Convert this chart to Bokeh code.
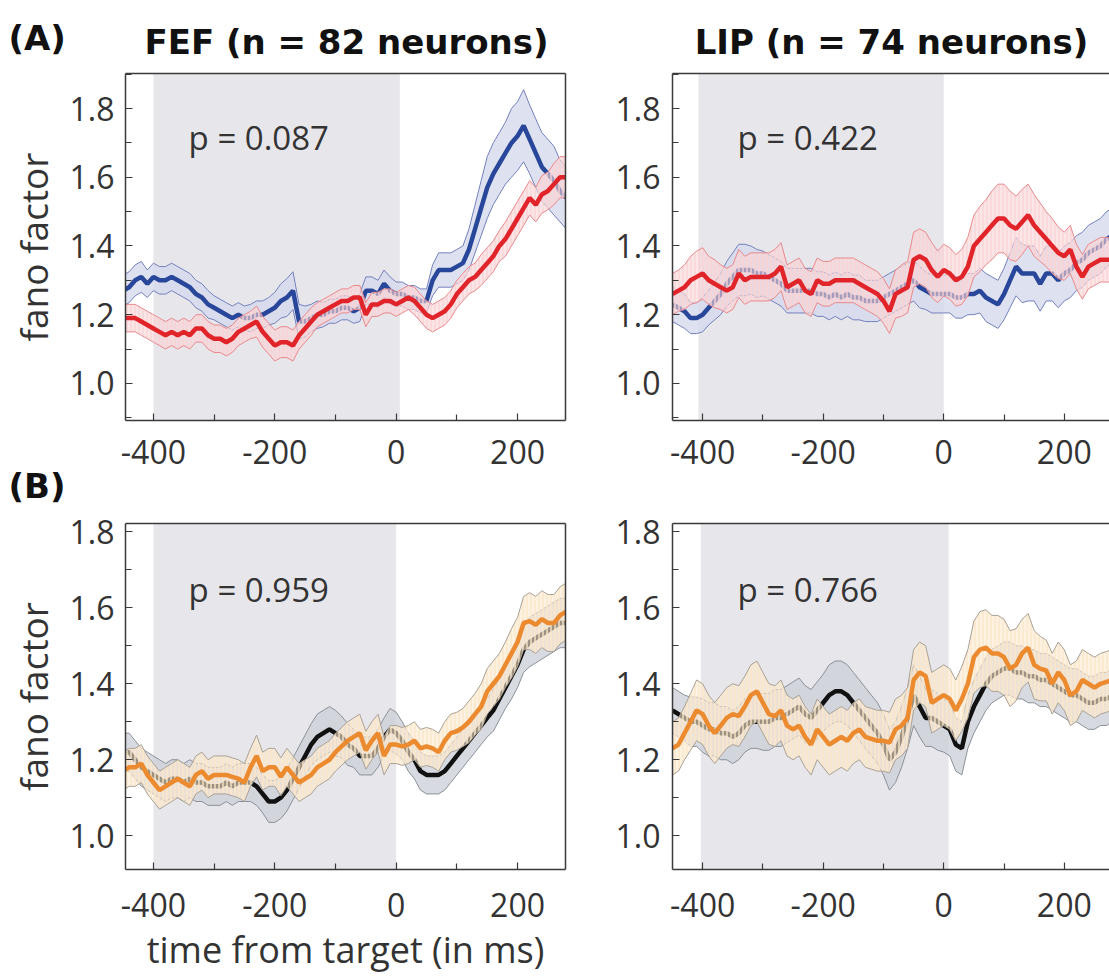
import numpy as np
from bokeh.plotting import figure
from bokeh.layouts import column, row
from bokeh.models import (FixedTicker, LinearAxis, Label, BoxAnnotation, Range1d,
                          NumeralTickFormatter, Title)
from bokeh.embed import file_html
from bokeh.resources import INLINE

# ---------------- data ----------------
time_ms = list(range(-450, 281, 10))  # 74 samples

# (A) FEF
fef_a_blue = [1.27,1.28,1.30,1.31,1.29,1.31,1.30,1.30,1.31,1.30,
              1.29,1.28,1.26,1.25,1.23,1.22,1.21,1.20,1.19,1.20,
              1.19,1.19,1.20,1.20,1.21,1.22,1.24,1.25,1.27,1.18,
              1.18,1.19,1.20,1.20,1.21,1.21,1.22,1.22,1.21,1.22,
              1.27,1.27,1.26,1.29,1.27,1.26,1.26,1.25,1.25,1.24,
              1.24,1.30,1.33,1.33,1.33,1.34,1.35,1.39,1.45,1.51,
              1.57,1.61,1.64,1.67,1.70,1.72,1.75,1.71,1.67,1.63,
              1.61,1.59,1.56,1.54]
fef_a_blue_sem = [.045,.045,.045,.045,.04,.04,.04,.04,.04,.04,
                  .04,.04,.04,.04,.04,.035,.035,.035,.035,.035,
                  .035,.04,.04,.04,.04,.045,.05,.055,.055,.05,
                  .045,.04,.04,.035,.035,.035,.035,.035,.035,.04,
                  .04,.04,.04,.04,.04,.035,.035,.035,.035,.035,
                  .035,.045,.05,.05,.05,.05,.05,.06,.07,.08,
                  .09,.09,.09,.09,.10,.10,.105,.10,.10,.10,
                  .10,.10,.09,.09]
fef_a_red = [1.19,1.19,1.19,1.18,1.17,1.16,1.15,1.14,1.15,1.14,
             1.15,1.14,1.16,1.16,1.14,1.13,1.13,1.12,1.13,1.15,
             1.16,1.17,1.18,1.15,1.13,1.11,1.12,1.12,1.11,1.14,
             1.16,1.18,1.20,1.21,1.22,1.23,1.24,1.24,1.25,1.25,
             1.20,1.23,1.23,1.24,1.24,1.23,1.24,1.25,1.24,1.22,
             1.20,1.19,1.20,1.21,1.23,1.26,1.28,1.30,1.31,1.33,
             1.35,1.37,1.40,1.42,1.45,1.48,1.51,1.54,1.52,1.55,
             1.56,1.58,1.60,1.60]
fef_a_red_sem = [.04,.04,.04,.04,.04,.04,.04,.04,.04,.04,
                 .04,.04,.04,.04,.04,.04,.04,.04,.04,.04,
                 .04,.04,.045,.045,.045,.045,.045,.045,.045,.04,
                 .04,.04,.035,.035,.035,.035,.035,.035,.035,.035,
                 .035,.035,.035,.035,.035,.035,.035,.035,.04,.04,
                 .04,.04,.04,.04,.04,.04,.04,.04,.04,.045,
                 .045,.045,.045,.05,.05,.05,.05,.05,.05,.055,
                 .055,.06,.06,.06]

# (A) LIP
lip_a_blue = [1.23,1.22,1.21,1.19,1.19,1.20,1.22,1.24,1.26,1.29,
              1.31,1.33,1.33,1.33,1.32,1.32,1.31,1.30,1.29,1.27,
              1.27,1.27,1.27,1.27,1.26,1.26,1.25,1.26,1.25,1.26,
              1.25,1.25,1.24,1.24,1.24,1.25,1.26,1.27,1.28,1.29,
              1.30,1.28,1.27,1.26,1.26,1.26,1.26,1.25,1.25,1.26,
              1.26,1.27,1.25,1.24,1.23,1.26,1.30,1.34,1.32,1.32,
              1.32,1.29,1.32,1.32,1.30,1.32,1.33,1.35,1.36,1.38,
              1.39,1.40,1.42,1.43]
lip_a_blue_sem = [.05,.05,.05,.045,.045,.05,.05,.055,.06,.065,
                  .07,.075,.075,.07,.07,.065,.065,.065,.065,.065,
                  .065,.065,.065,.065,.065,.065,.065,.065,.065,.065,
                  .065,.065,.06,.06,.06,.06,.06,.06,.06,.06,
                  .06,.06,.055,.055,.055,.055,.055,.06,.06,.06,
                  .06,.065,.07,.07,.07,.075,.08,.085,.085,.08,
                  .08,.08,.08,.08,.08,.08,.08,.08,.08,.08,
                  .08,.08,.08,.08]
lip_a_red = [1.26,1.27,1.28,1.30,1.31,1.32,1.30,1.29,1.28,1.27,
             1.28,1.32,1.30,1.31,1.31,1.31,1.31,1.32,1.34,1.28,
             1.29,1.30,1.27,1.26,1.30,1.29,1.29,1.30,1.30,1.30,
             1.30,1.29,1.28,1.27,1.26,1.24,1.21,1.26,1.27,1.28,
             1.36,1.37,1.36,1.33,1.31,1.33,1.32,1.30,1.31,1.34,
             1.40,1.42,1.44,1.46,1.48,1.48,1.46,1.45,1.47,1.49,
             1.46,1.44,1.42,1.40,1.38,1.37,1.39,1.34,1.31,1.34,
             1.35,1.36,1.36,1.36]
lip_a_red_sem = [.06,.06,.065,.07,.075,.075,.07,.07,.065,.065,
                 .065,.07,.07,.07,.07,.07,.07,.07,.07,.065,
                 .065,.065,.065,.065,.065,.065,.065,.065,.065,.065,
                 .065,.065,.065,.065,.065,.065,.065,.07,.075,.075,
                 .08,.08,.08,.08,.075,.075,.075,.075,.08,.085,
                 .09,.095,.095,.10,.10,.10,.10,.095,.095,.09,
                 .09,.085,.08,.08,.075,.07,.07,.065,.065,.065,
                 .065,.065,.065,.065]

# (B) FEF
fef_b_black = [1.22,1.22,1.20,1.18,1.17,1.16,1.15,1.14,1.15,1.15,
               1.14,1.15,1.14,1.14,1.13,1.13,1.13,1.14,1.13,1.14,
               1.14,1.14,1.13,1.11,1.09,1.09,1.10,1.12,1.15,1.18,
               1.21,1.24,1.26,1.27,1.28,1.27,1.26,1.24,1.23,1.21,
               1.21,1.21,1.23,1.26,1.28,1.27,1.25,1.22,1.20,1.17,
               1.16,1.16,1.16,1.17,1.19,1.21,1.23,1.25,1.27,1.29,
               1.31,1.33,1.36,1.39,1.42,1.45,1.49,1.51,1.52,1.53,
               1.54,1.55,1.56,1.56]
fef_b_black_sem = [.05,.05,.05,.05,.05,.05,.05,.05,.05,.05,
                   .05,.05,.05,.05,.05,.05,.05,.05,.05,.05,
                   .05,.05,.05,.05,.055,.055,.055,.055,.055,.055,
                   .055,.055,.06,.06,.06,.06,.055,.055,.05,.05,
                   .05,.05,.05,.05,.055,.055,.05,.05,.05,.05,
                   .05,.05,.05,.05,.05,.05,.05,.05,.05,.05,
                   .05,.055,.055,.055,.06,.06,.06,.065,.065,.065,
                   .065,.065,.065,.065]
fef_b_orange = [1.17,1.18,1.18,1.19,1.16,1.14,1.12,1.13,1.14,1.15,
                1.14,1.13,1.16,1.17,1.15,1.16,1.16,1.16,1.155,1.15,
                1.14,1.18,1.21,1.17,1.18,1.18,1.155,1.18,1.16,1.14,
                1.15,1.16,1.18,1.19,1.20,1.22,1.235,1.25,1.26,1.27,
                1.225,1.25,1.27,1.21,1.24,1.24,1.235,1.24,1.25,1.23,
                1.235,1.23,1.22,1.25,1.27,1.275,1.285,1.30,1.32,1.34,
                1.38,1.40,1.42,1.45,1.48,1.51,1.56,1.565,1.555,1.57,
                1.56,1.56,1.58,1.59]
fef_b_orange_sem = [.05,.05,.05,.05,.05,.05,.05,.05,.05,.05,
                    .05,.05,.05,.05,.05,.05,.05,.05,.05,.05,
                    .05,.05,.055,.05,.05,.05,.05,.05,.05,.05,
                    .05,.05,.05,.05,.05,.05,.05,.05,.05,.05,
                    .05,.05,.05,.05,.05,.05,.05,.05,.05,.05,
                    .05,.05,.05,.05,.05,.05,.05,.055,.055,.06,
                    .06,.06,.06,.06,.065,.065,.07,.075,.075,.075,
                    .075,.075,.075,.075]

# (B) LIP
lip_b_black = [1.33,1.32,1.31,1.30,1.30,1.29,1.28,1.28,1.27,1.27,
               1.26,1.27,1.29,1.30,1.30,1.30,1.30,1.31,1.31,1.32,
               1.33,1.34,1.32,1.31,1.33,1.35,1.37,1.38,1.38,1.37,
               1.35,1.33,1.31,1.29,1.27,1.24,1.20,1.22,1.26,1.31,
               1.37,1.34,1.31,1.31,1.30,1.29,1.28,1.24,1.23,1.30,
               1.34,1.37,1.40,1.42,1.43,1.44,1.44,1.43,1.43,1.42,
               1.42,1.41,1.41,1.40,1.39,1.38,1.37,1.37,1.36,1.35,
               1.35,1.36,1.36,1.37]
lip_b_black_sem = [.06,.06,.06,.065,.065,.07,.07,.07,.07,.07,
                   .07,.07,.07,.07,.07,.075,.075,.075,.075,.075,
                   .075,.075,.075,.075,.075,.075,.08,.08,.08,.08,
                   .08,.08,.08,.08,.08,.08,.08,.08,.08,.08,
                   .08,.08,.075,.075,.075,.07,.07,.07,.07,.07,
                   .07,.07,.07,.07,.07,.07,.07,.07,.07,.07,
                   .07,.07,.07,.07,.07,.07,.07,.07,.07,.07,
                   .07,.07,.07,.07]
lip_b_orange = [1.23,1.24,1.27,1.30,1.33,1.32,1.29,1.27,1.29,1.31,
                1.32,1.315,1.34,1.37,1.38,1.35,1.32,1.315,1.33,1.29,
                1.28,1.29,1.26,1.24,1.28,1.26,1.24,1.25,1.26,1.25,
                1.27,1.28,1.26,1.255,1.25,1.25,1.245,1.28,1.29,1.31,
                1.41,1.43,1.42,1.35,1.36,1.37,1.36,1.33,1.36,1.40,
                1.47,1.49,1.495,1.48,1.48,1.47,1.44,1.45,1.48,1.495,
                1.45,1.44,1.435,1.40,1.43,1.41,1.37,1.38,1.41,1.40,
                1.39,1.40,1.405,1.41]
lip_b_orange_sem = [.07,.07,.07,.075,.08,.08,.08,.08,.08,.08,
                    .08,.08,.08,.08,.08,.08,.08,.08,.08,.08,
                    .08,.08,.08,.08,.08,.08,.08,.08,.08,.08,
                    .08,.08,.08,.08,.08,.08,.08,.08,.08,.08,
                    .08,.08,.08,.08,.08,.08,.08,.08,.085,.09,
                    .095,.10,.10,.10,.10,.10,.10,.095,.09,.09,
                    .09,.085,.08,.08,.08,.08,.08,.08,.08,.08,
                    .08,.08,.08,.08]

panel_titles = ["FEF (n = 82 neurons)", "LIP (n = 74 neurons)"]
panel_letters = ["(A)", "(B)"]
p_values = ["p = 0.087", "p = 0.422", "p = 0.959", "p = 0.766"]
shade_windows = [(-400, 6), (-407, 0), (-400, 0), (-403, 8)]
x_ticks = [-400, -200, 0, 200]
x_tick_labels = ["-400", "-200", "0", "200"]
x_minor = [-300, -100, 100]
y_ticks = [1.0, 1.2, 1.4, 1.6, 1.8]
y_minor = [0.9, 1.1, 1.3, 1.5, 1.7, 1.9]

# ---------------- style ----------------
AX = "#3a3a3a"
TXT = "#333333"
SHADE = "#E7E6EB"
STY = {
    "blue":   dict(line="#28479A", band="#D6DAEC", edge="#7480BD"),
    "red":    dict(line="#E1232A", band="#F8D3D5", edge="#E8898D"),
    "black":  dict(line="#111111", band="#CDD1D8", edge="#8A9098"),
    "orange": dict(line="#EC8A2F", band="#FCE8CC", edge="#A9A196"),
}
HEAD_FONT = "DejaVu Sans"


def style_axis(ax, ticks, minor, standoff):
    ax.ticker = FixedTicker(ticks=ticks, minor_ticks=minor)
    ax.axis_line_color = AX
    ax.axis_line_width = 1.5
    ax.major_tick_in = 7
    ax.major_tick_out = 0
    ax.minor_tick_in = 6
    ax.minor_tick_out = 0
    ax.major_tick_line_color = AX
    ax.minor_tick_line_color = AX
    ax.major_tick_line_width = 1.2
    ax.minor_tick_line_width = 1.2
    ax.major_label_text_font = "Open Sans"
    ax.major_label_text_font_size = "32px"
    ax.major_label_text_color = TXT
    ax.major_label_standoff = standoff


def frame_line(p, side):
    ax = LinearAxis(ticker=FixedTicker(ticks=[]))
    ax.axis_line_color = AX
    ax.axis_line_width = 1.5
    ax.major_tick_in = 0
    ax.major_tick_out = 0
    ax.minor_tick_in = 0
    ax.minor_tick_out = 0
    ax.major_label_standoff = 0
    ax.major_label_text_font_size = "0px"
    p.add_layout(ax, side)


def band(p, x, mean, sem, key, on_top):
    s = STY[key]
    m = np.array(mean)
    e = np.array(sem)
    lo, hi = m - e, m + e
    if on_top:
        p.varea(x=x, y1=lo, y2=hi, fill_color=s["band"], fill_alpha=0.6,
                hatch_pattern="|", hatch_color=s["band"], hatch_alpha=0.85,
                hatch_scale=4, hatch_weight=1.6)
    else:
        p.varea(x=x, y1=lo, y2=hi, fill_color=s["band"], fill_alpha=0.8)
    p.line(x, hi, line_color=s["edge"], line_width=1)
    p.line(x, lo, line_color=s["edge"], line_width=1)


def panel(idx, width, height, borders, xr, yr, under, over, xlabel=None, ylabel=None,
          left_col=True, x_standoff=19):
    bl, br, bt, bb = borders
    p = figure(width=width, height=height, x_range=Range1d(*xr), y_range=Range1d(*yr),
               output_backend="svg", toolbar_location=None,
               min_border_left=bl, min_border_right=br, min_border_top=bt,
               min_border_bottom=bb, background_fill_color="white",
               border_fill_color="white")
    p.outline_line_color = None
    p.xgrid.visible = False
    p.ygrid.visible = False
    xa = p.below[0]
    ya = p.left[0]
    style_axis(xa, x_ticks, x_minor, x_standoff)
    xa.major_label_overrides = {t: l for t, l in zip(x_ticks, x_tick_labels)}
    style_axis(ya, y_ticks, y_minor, 11 if left_col else 12)
    ya.formatter = NumeralTickFormatter(format="0.0")
    frame_line(p, "above")
    if left_col:
        frame_line(p, "right")

    s0, s1 = shade_windows[idx]
    p.add_layout(BoxAnnotation(left=s0, right=s1, fill_color=SHADE, fill_alpha=1.0,
                               line_color=None, level="underlay"))

    (um, us, uk), (om, os_, ok) = under, over
    band(p, time_ms, um, us, uk, False)
    p.line(time_ms, um, line_color=STY[uk]["line"], line_width=4.5)
    band(p, time_ms, om, os_, ok, True)
    p.line(time_ms, om, line_color=STY[ok]["line"], line_width=4.5)

    py = 1.715 if idx < 2 else 1.647
    p.add_layout(Label(x=-342, y=py, text=p_values[idx], text_font="Open Sans",
                       text_font_size="33px", text_color=TXT, text_baseline="middle",
                       text_align="left"))
    if ylabel:
        ya.axis_label = ylabel
        ya.axis_label_text_font = "Open Sans"
        ya.axis_label_text_font_size = "37px"
        ya.axis_label_text_font_style = "normal"
        ya.axis_label_text_color = TXT
        ya.axis_label_standoff = 8
    if xlabel:
        xa.axis_label = xlabel
        xa.axis_label_text_font = "Open Sans"
        xa.axis_label_text_font_size = "36px"
        xa.axis_label_text_font_style = "normal"
        xa.axis_label_text_color = TXT
        xa.axis_label_standoff = 5
    return p


# ---------------- header strip (panel letter A + column titles) ----------------
HEAD_H = 62
head = figure(width=1109, height=HEAD_H, x_range=Range1d(0, 1109), y_range=Range1d(HEAD_H, 0),
              output_backend="svg", toolbar_location=None, x_axis_location=None,
              y_axis_location=None, min_border_left=0, min_border_right=0,
              min_border_top=0, min_border_bottom=0)
head.outline_line_color = None
head.xgrid.visible = False
head.ygrid.visible = False
head.add_layout(Label(x=8, y=37, text=panel_letters[0], text_font=HEAD_FONT,
                      text_font_style="bold", text_font_size="34px", text_color="#111111",
                      text_baseline="middle", text_align="left"))
for cx, t in zip([346, 891], panel_titles):
    head.add_layout(Label(x=cx, y=41, text=t, text_font=HEAD_FONT, text_font_style="bold",
                          text_font_size="34px", text_color="#111111",
                          text_baseline="middle", text_align="center"))

TOP_Y = (0.892, 1.902)
BOT_Y = (0.911, 1.822)

p1 = panel(0, 600, 446, (125, 35, 11, 88), (-446, 279), TOP_Y,
           (fef_a_blue, fef_a_blue_sem, "blue"), (fef_a_red, fef_a_red_sem, "red"),
           ylabel="fano factor", left_col=True)
p2 = panel(1, 509, 446, (72, 0, 11, 88), (-450, 275), TOP_Y,
           (lip_a_blue, lip_a_blue_sem, "blue"), (lip_a_red, lip_a_red_sem, "red"),
           left_col=False)
p3 = panel(2, 600, 468, (125, 35, 15, 107), (-446, 279), BOT_Y,
           (fef_b_black, fef_b_black_sem, "black"), (fef_b_orange, fef_b_orange_sem, "orange"),
           xlabel="time from target (in ms)", ylabel="fano factor", left_col=True,
           x_standoff=23)
p4 = panel(3, 509, 468, (72, 0, 15, 107), (-450, 275), BOT_Y,
           (lip_b_black, lip_b_black_sem, "black"), (lip_b_orange, lip_b_orange_sem, "orange"),
           left_col=False, x_standoff=23)

# panel letter (B) sits under the upper-left panel's axis, at the page's left edge
p1.add_layout(Title(text=panel_letters[1], text_font=HEAD_FONT, text_font_style="bold",
                    text_font_size="34px", text_color="#111111", align="left",
                    offset=-117, standoff=-5), "below")

layout = column(head, row(p1, p2, spacing=0), row(p3, p4, spacing=0), spacing=0)
open("out.html", "w").write(file_html(layout, INLINE))
